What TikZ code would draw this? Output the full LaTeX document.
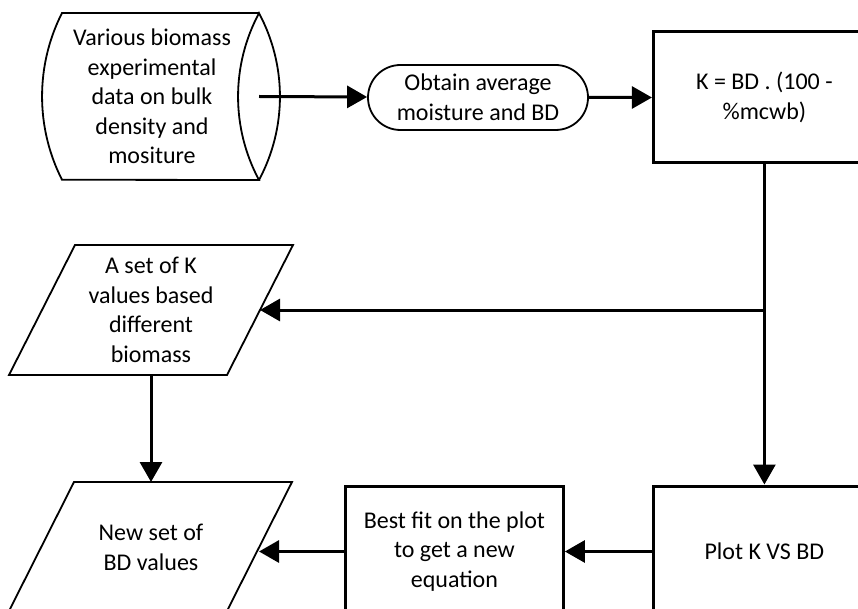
\documentclass[tikz,border=0pt]{standalone}
\usepackage{fontspec}
\setmainfont{Carlito}
\usetikzlibrary{shapes,arrows.meta,positioning,calc}

\begin{document}
\begin{tikzpicture}[x=1pt, y=1pt, node distance=1cm, auto,
    font=\fontsize{24}{29.5}\selectfont,
    thinline/.style={draw, line width=1.8pt, line join=miter},
    thinshape/.style={thinline, align=center, inner sep=0pt},
    box/.style={rectangle, draw, line width=3pt, align=center, minimum width=222pt, minimum height=131pt, inner sep=0pt},
    arr/.style={line width=3pt, -{Triangle[length=20pt,width=22pt]}}]
    \useasboundingbox (0,0) rectangle (858,-609);

    % Data source (drum)
    \node (src) at (152,-96.5) [align=center] {Various biomass \\ experimental \\ data on bulk \\ density and \\ mositure};
    \draw [thinline] (259,-13) -- (62,-13) arc[start angle=153.1, end angle=206.9, radius=184.3]
        -- (259,-180) arc[start angle=208.2, end angle=151.8, radius=176.5]
        arc[start angle=28.2, end angle=-28.2, radius=176.5];
    \coordinate (srcend) at (259,-96.5);

    % Top row
    \node (avg) at (478,-97.5) [thinshape, rounded rectangle, minimum width=220pt, minimum height=65pt] {Obtain average \\ moisture and BD};
    \node (kbox) [box, right=63pt of avg] {K = BD . (100 - \\ \%mcwb)};

    % Bottom row
    \node (plot) [box, below=320pt of kbox] {Plot K VS BD};
    \node (fit) [box, left=87pt of plot, minimum width=218pt] {Best fit on the plot \\ to get a new \\ equation};
    \node (newbd) at (151,-547.5) [align=center] {New set of \\ BD values};
    \draw [thinline] (74,-482) -- (292,-482) -- (226,-613) -- (8,-613) -- cycle;
    \coordinate (newbdtop) at (151,-482);
    \coordinate (newbdin) at (259,-547.5);

    % K values
    \node (kset) at (151,-310) [align=center] {A set of K \\ values based \\ different \\ biomass};
    \draw [thinline] (75,-245) -- (293,-245) -- (227,-375) -- (9,-375) -- cycle;
    \coordinate (ksetin) at (260,-310);
    \coordinate (ksetbot) at (151,-375);

    % Arrows
    \draw [arr] (srcend) -- (avg);
    \draw [arr] (avg) -- (kbox);
    \draw [arr] (kbox) -- (plot);
    \draw [arr] (kbox.south |- ksetin) -- (ksetin);
    \draw [arr] (ksetbot) -- (newbdtop);
    \draw [arr] (plot) -- (fit);
    \draw [arr] (fit) -- (fit -| newbdin);
\end{tikzpicture}
\end{document}
